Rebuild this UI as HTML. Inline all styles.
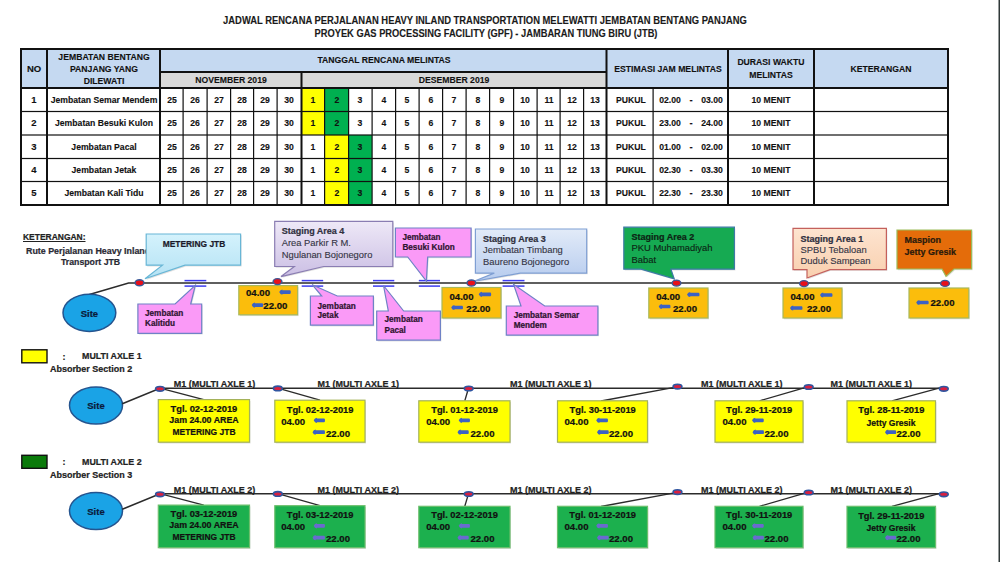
<!DOCTYPE html>
<html><head><meta charset="utf-8"><title>Jadwal</title><style>
html,body{margin:0;padding:0;background:#fff;}
body{width:1000px;height:562px;position:relative;overflow:hidden;font-family:"Liberation Sans",sans-serif;color:#111;}
.a{position:absolute;}
.t{position:absolute;white-space:nowrap;font-weight:bold;-webkit-text-stroke:0.12px currentColor;}
</style></head><body>
<div class="t" style="left:26.20px;top:247.10px;font-size:9px;line-height:9px;color:#2a2a35;transform:scaleX(0.985);transform-origin:0 0;-webkit-text-stroke:0.22px currentColor;">Rute Perjalanan Heavy Inland</div>
<svg class="a" style="left:0;top:0" width="1000" height="562"><defs><linearGradient id="gCyan" x1="0" y1="0" x2="0" y2="1"><stop offset="0" stop-color="#d4f2fc"/><stop offset="1" stop-color="#b4e2f4"/></linearGradient><linearGradient id="gLav" x1="0" y1="0" x2="0" y2="1"><stop offset="0" stop-color="#eee8f7"/><stop offset="1" stop-color="#cbbfe4"/></linearGradient><linearGradient id="gBlu" x1="0" y1="0" x2="0" y2="1"><stop offset="0" stop-color="#e2ebf8"/><stop offset="1" stop-color="#b6cbee"/></linearGradient><linearGradient id="gPch" x1="0" y1="0" x2="0" y2="1"><stop offset="0" stop-color="#fde4d0"/><stop offset="1" stop-color="#f9cfae"/></linearGradient></defs><rect x="21" y="49" width="927" height="39" fill="#c5d9f1" /><rect x="161" y="72" width="445" height="16" fill="#d9d9d9" /><rect x="302" y="89" width="22.5" height="22.5" fill="#ffff00" /><rect x="324.5" y="89" width="24.0" height="22.5" fill="#00b050" /><rect x="302" y="111.5" width="22.5" height="23.5" fill="#ffff00" /><rect x="324.5" y="111.5" width="24.0" height="23.5" fill="#00b050" /><rect x="324.5" y="135" width="24.0" height="23.5" fill="#ffff00" /><rect x="348.5" y="135" width="23.5" height="23.5" fill="#00b050" /><rect x="324.5" y="158.5" width="24.0" height="23.0" fill="#ffff00" /><rect x="348.5" y="158.5" width="23.5" height="23.0" fill="#00b050" /><rect x="324.5" y="181.5" width="24.0" height="23.5" fill="#ffff00" /><rect x="348.5" y="181.5" width="23.5" height="23.5" fill="#00b050" /><rect x="182.5" y="88" width="1.2" height="117" fill="#111" /><rect x="206.5" y="88" width="1.2" height="117" fill="#111" /><rect x="230.0" y="88" width="1.2" height="117" fill="#111" /><rect x="253.0" y="88" width="1.2" height="117" fill="#111" /><rect x="276.5" y="88" width="1.2" height="117" fill="#111" /><rect x="324.0" y="88" width="1.2" height="117" fill="#111" /><rect x="348.0" y="88" width="1.2" height="117" fill="#111" /><rect x="371.5" y="88" width="1.2" height="117" fill="#111" /><rect x="395.0" y="88" width="1.2" height="117" fill="#111" /><rect x="418.5" y="88" width="1.2" height="117" fill="#111" /><rect x="442.0" y="88" width="1.2" height="117" fill="#111" /><rect x="465.5" y="88" width="1.2" height="117" fill="#111" /><rect x="489.0" y="88" width="1.2" height="117" fill="#111" /><rect x="513.0" y="88" width="1.2" height="117" fill="#111" /><rect x="536.5" y="88" width="1.2" height="117" fill="#111" /><rect x="559.5" y="88" width="1.2" height="117" fill="#111" /><rect x="583.0" y="88" width="1.2" height="117" fill="#111" /><rect x="652.5" y="88" width="1.2" height="117" fill="#111" /><rect x="21" y="110.9" width="927" height="1.2" fill="#111" /><rect x="21" y="134.4" width="927" height="1.2" fill="#111" /><rect x="21" y="157.9" width="927" height="1.2" fill="#111" /><rect x="21" y="180.9" width="927" height="1.2" fill="#111" /><rect x="20" y="48" width="2" height="158" fill="#111" /><rect x="46" y="48" width="2" height="158" fill="#111" /><rect x="159" y="48" width="2" height="158" fill="#111" /><rect x="300.5" y="48" width="2" height="158" fill="#111" /><rect x="605.5" y="48" width="2" height="158" fill="#111" /><rect x="727" y="48" width="2" height="158" fill="#111" /><rect x="813" y="48" width="2" height="158" fill="#111" /><rect x="947" y="48" width="2" height="158" fill="#111" /><rect x="161" y="71" width="445" height="2" fill="#111" /><rect x="20" y="48" width="929" height="2" fill="#111" /><rect x="20" y="87" width="929" height="2" fill="#111" /><rect x="20" y="204" width="929" height="2" fill="#111" /><rect x="300" y="50" width="3" height="21" fill="#c5d9f1"/><rect x="605" y="50" width="0" height="0" fill="none"/><polyline points="89.4,294.5 128.6,283 945,283" fill="none" stroke="#2b2b2b" stroke-width="1.5"/><ellipse cx="89.4" cy="312.8" rx="26.4" ry="18.6" fill="#1aa3e6" stroke="#24548f" stroke-width="1.5"/><line x1="184.5" y1="280.6" x2="206.3" y2="280.6" stroke="#3c3cf0" stroke-width="1.5"/><line x1="184.5" y1="286.1" x2="206.3" y2="286.1" stroke="#3c3cf0" stroke-width="1.5"/><line x1="301.7" y1="280.6" x2="323.2" y2="280.6" stroke="#3c3cf0" stroke-width="1.5"/><line x1="301.7" y1="286.1" x2="323.2" y2="286.1" stroke="#3c3cf0" stroke-width="1.5"/><line x1="373" y1="280.6" x2="394.3" y2="280.6" stroke="#3c3cf0" stroke-width="1.5"/><line x1="373" y1="286.1" x2="394.3" y2="286.1" stroke="#3c3cf0" stroke-width="1.5"/><line x1="418.8" y1="280.6" x2="440" y2="280.6" stroke="#3c3cf0" stroke-width="1.5"/><line x1="418.8" y1="286.1" x2="440" y2="286.1" stroke="#3c3cf0" stroke-width="1.5"/><line x1="502.6" y1="280.6" x2="524.5" y2="280.6" stroke="#3c3cf0" stroke-width="1.5"/><line x1="502.6" y1="286.1" x2="524.5" y2="286.1" stroke="#3c3cf0" stroke-width="1.5"/><path d="M137.9,304 H175.1 L195.3,285.4 L190.7,304 H201.7 V333.3 H137.9 Z" transform="translate(1,1.2)" fill="#000" fill-opacity="0.12"/><path d="M137.9,304 H175.1 L195.3,285.4 L190.7,304 H201.7 V333.3 H137.9 Z" fill="#fa9af7" stroke="#6f82c6" stroke-width="1.2" stroke-linejoin="miter"/><path d="M310.4,296 H321.7 L312.2,284.7 L337.3,296 H373.4 V325.2 H310.4 Z" transform="translate(1,1.2)" fill="#000" fill-opacity="0.12"/><path d="M310.4,296 H321.7 L312.2,284.7 L337.3,296 H373.4 V325.2 H310.4 Z" fill="#fa9af7" stroke="#6f82c6" stroke-width="1.2" stroke-linejoin="miter"/><path d="M376.7,311 H388.3 L383.5,285.5 L403.7,311 H440.4 V340.2 H376.7 Z" transform="translate(1,1.2)" fill="#000" fill-opacity="0.12"/><path d="M376.7,311 H388.3 L383.5,285.5 L403.7,311 H440.4 V340.2 H376.7 Z" fill="#fa9af7" stroke="#6f82c6" stroke-width="1.2" stroke-linejoin="miter"/><path d="M506.3,306 H521 L513.5,284.2 L544.7,306 H597.9 V335.1 H506.3 Z" transform="translate(1,1.2)" fill="#000" fill-opacity="0.12"/><path d="M506.3,306 H521 L513.5,284.2 L544.7,306 H597.9 V335.1 H506.3 Z" fill="#fa9af7" stroke="#6f82c6" stroke-width="1.2" stroke-linejoin="miter"/><path d="M395.4,228 H471.1 V257 H427.7 L426.4,281 L407.7,257 H395.4 Z" transform="translate(1,1.2)" fill="#000" fill-opacity="0.12"/><path d="M395.4,228 H471.1 V257 H427.7 L426.4,281 L407.7,257 H395.4 Z" fill="#fa9af7" stroke="#6f82c6" stroke-width="1.2" stroke-linejoin="miter"/><path d="M146.2,234 H240.6 V265.2 H185 L145,278.8 L162.5,265.2 H146.2 Z" transform="translate(1,1.2)" fill="#000" fill-opacity="0.12"/><path d="M146.2,234 H240.6 V265.2 H185 L145,278.8 L162.5,265.2 H146.2 Z" fill="url(#gCyan)" stroke="#68b6d6" stroke-width="1.2" stroke-linejoin="miter"/><path d="M274.7,221.3 H392.8 V266.5 H323.7 L281,276.6 L294.3,266.5 H274.7 Z" transform="translate(1,1.2)" fill="#000" fill-opacity="0.12"/><path d="M274.7,221.3 H392.8 V266.5 H323.7 L281,276.6 L294.3,266.5 H274.7 Z" fill="url(#gLav)" stroke="#8a7db2" stroke-width="1.2" stroke-linejoin="miter"/><path d="M475.4,229 H586.7 V273.1 H520.2 L473.3,281.5 L494.3,273.1 H475.4 Z" transform="translate(1,1.2)" fill="#000" fill-opacity="0.12"/><path d="M475.4,229 H586.7 V273.1 H520.2 L473.3,281.5 L494.3,273.1 H475.4 Z" fill="url(#gBlu)" stroke="#7f9fd3" stroke-width="1.2" stroke-linejoin="miter"/><path d="M623.8,227.2 H734.4 V269.2 H670.9 L674.2,278.8 L641,269.2 H623.8 Z" transform="translate(1,1.2)" fill="#000" fill-opacity="0.12"/><path d="M623.8,227.2 H734.4 V269.2 H670.9 L674.2,278.8 L641,269.2 H623.8 Z" fill="#16aa52" stroke="#3d7aa6" stroke-width="1.2" stroke-linejoin="miter"/><path d="M793,228.4 H886.4 V269.6 H830 L807,278 L807,269.6 H793 Z" transform="translate(1,1.2)" fill="#000" fill-opacity="0.12"/><path d="M793,228.4 H886.4 V269.6 H830 L807,278 L807,269.6 H793 Z" fill="url(#gPch)" stroke="#c4605c" stroke-width="1.2" stroke-linejoin="miter"/><path d="M897,230 H971.6 V269 H954 L946,276.4 L942,269 H897 Z" transform="translate(1,1.2)" fill="#000" fill-opacity="0.12"/><path d="M897,230 H971.6 V269 H954 L946,276.4 L942,269 H897 Z" fill="#e46c0a" stroke="#9bbb59" stroke-width="1.2" stroke-linejoin="miter"/><rect x="239.8" y="286.90000000000003" width="58.80000000000001" height="29.19999999999999" fill="#000" fill-opacity="0.13"/><rect x="238.8" y="285.6" width="58.80000000000001" height="29.19999999999999" fill="#fbbd0c" stroke="#a8b85a" stroke-width="1.2"/><rect x="443" y="288.8" width="59" height="30.5" fill="#000" fill-opacity="0.13"/><rect x="442" y="287.5" width="59" height="30.5" fill="#fbbd0c" stroke="#a8b85a" stroke-width="1.2"/><rect x="649.8" y="289.3" width="59.200000000000045" height="30" fill="#000" fill-opacity="0.13"/><rect x="648.8" y="288" width="59.200000000000045" height="30" fill="#fbbd0c" stroke="#a8b85a" stroke-width="1.2"/><rect x="784" y="289.3" width="59" height="30" fill="#000" fill-opacity="0.13"/><rect x="783" y="288" width="59" height="30" fill="#fbbd0c" stroke="#a8b85a" stroke-width="1.2"/><rect x="910" y="289.3" width="59.799999999999955" height="30" fill="#000" fill-opacity="0.13"/><rect x="909" y="288" width="59.799999999999955" height="30" fill="#fbbd0c" stroke="#a8b85a" stroke-width="1.2"/><ellipse cx="139.5" cy="282.8" rx="4.4" ry="3.0" fill="#e8101a" stroke="#3b5a9a" stroke-width="1.4"/><ellipse cx="277.5" cy="281.6" rx="4.4" ry="3.0" fill="#e8101a" stroke="#3b5a9a" stroke-width="1.4"/><ellipse cx="471.4" cy="283" rx="4.4" ry="3.0" fill="#e8101a" stroke="#3b5a9a" stroke-width="1.4"/><ellipse cx="676.5" cy="283.1" rx="4.4" ry="3.0" fill="#e8101a" stroke="#3b5a9a" stroke-width="1.4"/><ellipse cx="804" cy="283.6" rx="4.4" ry="3.0" fill="#e8101a" stroke="#3b5a9a" stroke-width="1.4"/><ellipse cx="945" cy="283.4" rx="4.4" ry="3.0" fill="#e8101a" stroke="#3b5a9a" stroke-width="1.4"/><path d="M279.2,292.1 Q280.2,289.5 282.4,289.5 L282.4,290.25 L290.0,290.25 Q290.8,290.25 290.8,292.1 Q290.8,293.95000000000005 290.0,293.95000000000005 L282.4,293.95000000000005 L282.4,294.70000000000005 Q280.2,294.70000000000005 279.2,292.1 Z" fill="#3b62c4"/><path d="M251.7,305.1 Q252.7,302.5 254.89999999999998,302.5 L254.89999999999998,303.25 L262.4,303.25 Q263.2,303.25 263.2,305.1 Q263.2,306.95000000000005 262.4,306.95000000000005 L254.89999999999998,306.95000000000005 L254.89999999999998,307.70000000000005 Q252.7,307.70000000000005 251.7,305.1 Z" fill="#3b62c4"/><path d="M478.7,294.3 Q479.7,291.7 481.9,291.7 L481.9,292.45 L490.4,292.45 Q491.2,292.45 491.2,294.3 Q491.2,296.15000000000003 490.4,296.15000000000003 L481.9,296.15000000000003 L481.9,296.90000000000003 Q479.7,296.90000000000003 478.7,294.3 Z" fill="#3b62c4"/><path d="M451.2,307.5 Q452.2,304.9 454.4,304.9 L454.4,305.65 L462.2,305.65 Q463,305.65 463,307.5 Q463,309.35 462.2,309.35 L454.4,309.35 L454.4,310.1 Q452.2,310.1 451.2,307.5 Z" fill="#3b62c4"/><path d="M687,294.5 Q688,291.9 690.2,291.9 L690.2,292.65 L698.7,292.65 Q699.5,292.65 699.5,294.5 Q699.5,296.35 698.7,296.35 L690.2,296.35 L690.2,297.1 Q688,297.1 687,294.5 Z" fill="#3b62c4"/><path d="M658.7,306.5 Q659.7,303.9 661.9000000000001,303.9 L661.9000000000001,304.65 L669.7,304.65 Q670.5,304.65 670.5,306.5 Q670.5,308.35 669.7,308.35 L661.9000000000001,308.35 L661.9000000000001,309.1 Q659.7,309.1 658.7,306.5 Z" fill="#3b62c4"/><path d="M820,295 Q821,292.4 823.2,292.4 L823.2,293.15 L831.7,293.15 Q832.5,293.15 832.5,295 Q832.5,296.85 831.7,296.85 L823.2,296.85 L823.2,297.6 Q821,297.6 820,295 Z" fill="#3b62c4"/><path d="M790,308 Q791,305.4 793.2,305.4 L793.2,306.15 L801.7,306.15 Q802.5,306.15 802.5,308 Q802.5,309.85 801.7,309.85 L793.2,309.85 L793.2,310.6 Q791,310.6 790,308 Z" fill="#3b62c4"/><path d="M916.2,302.5 Q917.2,299.9 919.4000000000001,299.9 L919.4000000000001,300.65 L927.9000000000001,300.65 Q928.7,300.65 928.7,302.5 Q928.7,304.35 927.9000000000001,304.35 L919.4000000000001,304.35 L919.4000000000001,305.1 Q917.2,305.1 916.2,302.5 Z" fill="#3b62c4"/><rect x="21.8" y="349.8" width="25.2" height="13" fill="#ffff00" stroke="#111" stroke-width="1.4"/><ellipse cx="96" cy="405.5" rx="26.5" ry="18.4" fill="#1aa3e6" stroke="#24548f" stroke-width="1.5"/><polyline points="122.3,403.8 160,388.2 944,388.2" fill="none" stroke="#2b2b2b" stroke-width="1.5"/><line x1="160" y1="388.2" x2="203.8" y2="399.6" stroke="#2b2b2b" stroke-width="1.3"/><line x1="277.8" y1="388.2" x2="320" y2="400.2" stroke="#2b2b2b" stroke-width="1.3"/><line x1="468.2" y1="389.2" x2="464.8" y2="400.8" stroke="#2b2b2b" stroke-width="1.3"/><line x1="673" y1="387.7" x2="601" y2="401" stroke="#2b2b2b" stroke-width="1.3"/><line x1="805" y1="387.7" x2="759.5" y2="400.8" stroke="#2b2b2b" stroke-width="1.3"/><line x1="939" y1="388.2" x2="892" y2="400.8" stroke="#2b2b2b" stroke-width="1.3"/><rect x="159.3" y="400.90000000000003" width="91.19999999999999" height="42.599999999999966" fill="#000" fill-opacity="0.13"/><rect x="158.3" y="399.6" width="91.19999999999999" height="42.599999999999966" fill="#ffff00" stroke="#a4b25a" stroke-width="1.2"/><rect x="275.8" y="401.5" width="90.19999999999999" height="42.0" fill="#000" fill-opacity="0.13"/><rect x="274.8" y="400.2" width="90.19999999999999" height="42.0" fill="#ffff00" stroke="#a4b25a" stroke-width="1.2"/><rect x="419.8" y="402.1" width="91.19999999999999" height="41.39999999999998" fill="#000" fill-opacity="0.13"/><rect x="418.8" y="400.8" width="91.19999999999999" height="41.39999999999998" fill="#ffff00" stroke="#a4b25a" stroke-width="1.2"/><rect x="558.5" y="402.1" width="90.0" height="41.39999999999998" fill="#000" fill-opacity="0.13"/><rect x="557.5" y="400.8" width="90.0" height="41.39999999999998" fill="#ffff00" stroke="#a4b25a" stroke-width="1.2"/><rect x="716" y="402.1" width="88" height="41.39999999999998" fill="#000" fill-opacity="0.13"/><rect x="715" y="400.8" width="88" height="41.39999999999998" fill="#ffff00" stroke="#a4b25a" stroke-width="1.2"/><rect x="848" y="402.1" width="88.5" height="41.39999999999998" fill="#000" fill-opacity="0.13"/><rect x="847" y="400.8" width="88.5" height="41.39999999999998" fill="#ffff00" stroke="#a4b25a" stroke-width="1.2"/><ellipse cx="160" cy="388.8" rx="4.4" ry="2.3" fill="#d82040" stroke="#2f55a0" stroke-width="1.6"/><ellipse cx="277.8" cy="388.4" rx="4.4" ry="2.3" fill="#d82040" stroke="#2f55a0" stroke-width="1.6"/><ellipse cx="468.7" cy="388.5" rx="4.4" ry="2.3" fill="#d82040" stroke="#2f55a0" stroke-width="1.6"/><ellipse cx="677.5" cy="386.59999999999997" rx="4.4" ry="2.3" fill="#d82040" stroke="#2f55a0" stroke-width="1.6"/><ellipse cx="808.7" cy="387.0" rx="4.4" ry="2.3" fill="#d82040" stroke="#2f55a0" stroke-width="1.6"/><ellipse cx="943.8" cy="388.8" rx="4.4" ry="2.3" fill="#d82040" stroke="#2f55a0" stroke-width="1.6"/><path d="M313.7,420.3 Q314.7,417.7 316.9,417.7 L316.9,418.45 L324.2,418.45 Q325,418.45 325,420.3 Q325,422.15000000000003 324.2,422.15000000000003 L316.9,422.15000000000003 L316.9,422.90000000000003 Q314.7,422.90000000000003 313.7,420.3 Z" fill="#3b62c4"/><path d="M312.5,432.2 Q313.5,429.59999999999997 315.7,429.59999999999997 L315.7,430.34999999999997 L324.2,430.34999999999997 Q325,430.34999999999997 325,432.2 Q325,434.05 324.2,434.05 L315.7,434.05 L315.7,434.8 Q313.5,434.8 312.5,432.2 Z" fill="#3b62c4"/><path d="M458.7,420.3 Q459.7,417.7 461.9,417.7 L461.9,418.45 L469.2,418.45 Q470,418.45 470,420.3 Q470,422.15000000000003 469.2,422.15000000000003 L461.9,422.15000000000003 L461.9,422.90000000000003 Q459.7,422.90000000000003 458.7,420.3 Z" fill="#3b62c4"/><path d="M457.5,432.2 Q458.5,429.59999999999997 460.7,429.59999999999997 L460.7,430.34999999999997 L468.0,430.34999999999997 Q468.8,430.34999999999997 468.8,432.2 Q468.8,434.05 468.0,434.05 L460.7,434.05 L460.7,434.8 Q458.5,434.8 457.5,432.2 Z" fill="#3b62c4"/><path d="M596.2,420.3 Q597.2,417.7 599.4000000000001,417.7 L599.4000000000001,418.45 L607.2,418.45 Q608,418.45 608,420.3 Q608,422.15000000000003 607.2,422.15000000000003 L599.4000000000001,422.15000000000003 L599.4000000000001,422.90000000000003 Q597.2,422.90000000000003 596.2,420.3 Z" fill="#3b62c4"/><path d="M597,432.2 Q598,429.59999999999997 600.2,429.59999999999997 L600.2,430.34999999999997 L608.0,430.34999999999997 Q608.8,430.34999999999997 608.8,432.2 Q608.8,434.05 608.0,434.05 L600.2,434.05 L600.2,434.8 Q598,434.8 597,432.2 Z" fill="#3b62c4"/><path d="M752,420.3 Q753,417.7 755.2,417.7 L755.2,418.45 L763.0,418.45 Q763.8,418.45 763.8,420.3 Q763.8,422.15000000000003 763.0,422.15000000000003 L755.2,422.15000000000003 L755.2,422.90000000000003 Q753,422.90000000000003 752,420.3 Z" fill="#3b62c4"/><path d="M752.5,432.2 Q753.5,429.59999999999997 755.7,429.59999999999997 L755.7,430.34999999999997 L763.2,430.34999999999997 Q764,430.34999999999997 764,432.2 Q764,434.05 763.2,434.05 L755.7,434.05 L755.7,434.8 Q753.5,434.8 752.5,432.2 Z" fill="#3b62c4"/><path d="M885,432.2 Q886,429.59999999999997 888.2,429.59999999999997 L888.2,430.34999999999997 L895.4000000000001,430.34999999999997 Q896.2,430.34999999999997 896.2,432.2 Q896.2,434.05 895.4000000000001,434.05 L888.2,434.05 L888.2,434.8 Q886,434.8 885,432.2 Z" fill="#3b62c4"/><rect x="21.8" y="455.3" width="25.2" height="13" fill="#0a7a0a" stroke="#111" stroke-width="1.4"/><ellipse cx="96" cy="511.0" rx="26.5" ry="18.4" fill="#1aa3e6" stroke="#24548f" stroke-width="1.5"/><polyline points="122.3,509.3 160,493.7 944,493.7" fill="none" stroke="#2b2b2b" stroke-width="1.5"/><line x1="160" y1="493.7" x2="203.8" y2="505.1" stroke="#2b2b2b" stroke-width="1.3"/><line x1="277.8" y1="493.7" x2="320" y2="505.7" stroke="#2b2b2b" stroke-width="1.3"/><line x1="468.2" y1="494.7" x2="464.8" y2="506.3" stroke="#2b2b2b" stroke-width="1.3"/><line x1="673" y1="493.2" x2="601" y2="506.5" stroke="#2b2b2b" stroke-width="1.3"/><line x1="805" y1="493.2" x2="759.5" y2="506.3" stroke="#2b2b2b" stroke-width="1.3"/><line x1="939" y1="493.7" x2="892" y2="506.3" stroke="#2b2b2b" stroke-width="1.3"/><rect x="159.3" y="506.40000000000003" width="91.19999999999999" height="42.60000000000002" fill="#000" fill-opacity="0.13"/><rect x="158.3" y="505.1" width="91.19999999999999" height="42.60000000000002" fill="#1cb04e" stroke="#6cbf6c" stroke-width="1.2"/><rect x="275.8" y="507.0" width="90.19999999999999" height="42.00000000000006" fill="#000" fill-opacity="0.13"/><rect x="274.8" y="505.7" width="90.19999999999999" height="42.00000000000006" fill="#1cb04e" stroke="#6cbf6c" stroke-width="1.2"/><rect x="419.8" y="507.6" width="91.19999999999999" height="41.400000000000034" fill="#000" fill-opacity="0.13"/><rect x="418.8" y="506.3" width="91.19999999999999" height="41.400000000000034" fill="#1cb04e" stroke="#6cbf6c" stroke-width="1.2"/><rect x="558.5" y="507.6" width="90.0" height="41.400000000000034" fill="#000" fill-opacity="0.13"/><rect x="557.5" y="506.3" width="90.0" height="41.400000000000034" fill="#1cb04e" stroke="#6cbf6c" stroke-width="1.2"/><rect x="716" y="507.6" width="88" height="41.400000000000034" fill="#000" fill-opacity="0.13"/><rect x="715" y="506.3" width="88" height="41.400000000000034" fill="#1cb04e" stroke="#6cbf6c" stroke-width="1.2"/><rect x="848" y="507.6" width="88.5" height="41.400000000000034" fill="#000" fill-opacity="0.13"/><rect x="847" y="506.3" width="88.5" height="41.400000000000034" fill="#1cb04e" stroke="#6cbf6c" stroke-width="1.2"/><ellipse cx="160" cy="494.3" rx="4.4" ry="2.3" fill="#d82040" stroke="#2f55a0" stroke-width="1.6"/><ellipse cx="277.8" cy="493.9" rx="4.4" ry="2.3" fill="#d82040" stroke="#2f55a0" stroke-width="1.6"/><ellipse cx="468.7" cy="494.0" rx="4.4" ry="2.3" fill="#d82040" stroke="#2f55a0" stroke-width="1.6"/><ellipse cx="677.5" cy="492.09999999999997" rx="4.4" ry="2.3" fill="#d82040" stroke="#2f55a0" stroke-width="1.6"/><ellipse cx="808.7" cy="492.5" rx="4.4" ry="2.3" fill="#d82040" stroke="#2f55a0" stroke-width="1.6"/><ellipse cx="943.8" cy="494.3" rx="4.4" ry="2.3" fill="#d82040" stroke="#2f55a0" stroke-width="1.6"/><path d="M313.7,525.8 Q314.7,523.1999999999999 316.9,523.1999999999999 L316.9,523.9499999999999 L324.2,523.9499999999999 Q325,523.9499999999999 325,525.8 Q325,527.65 324.2,527.65 L316.9,527.65 L316.9,528.4 Q314.7,528.4 313.7,525.8 Z" fill="#6a6ad0"/><path d="M312.5,537.7 Q313.5,535.1 315.7,535.1 L315.7,535.85 L324.2,535.85 Q325,535.85 325,537.7 Q325,539.5500000000001 324.2,539.5500000000001 L315.7,539.5500000000001 L315.7,540.3000000000001 Q313.5,540.3000000000001 312.5,537.7 Z" fill="#6a6ad0"/><path d="M458.7,525.8 Q459.7,523.1999999999999 461.9,523.1999999999999 L461.9,523.9499999999999 L469.2,523.9499999999999 Q470,523.9499999999999 470,525.8 Q470,527.65 469.2,527.65 L461.9,527.65 L461.9,528.4 Q459.7,528.4 458.7,525.8 Z" fill="#6a6ad0"/><path d="M457.5,537.7 Q458.5,535.1 460.7,535.1 L460.7,535.85 L468.0,535.85 Q468.8,535.85 468.8,537.7 Q468.8,539.5500000000001 468.0,539.5500000000001 L460.7,539.5500000000001 L460.7,540.3000000000001 Q458.5,540.3000000000001 457.5,537.7 Z" fill="#6a6ad0"/><path d="M596.2,525.8 Q597.2,523.1999999999999 599.4000000000001,523.1999999999999 L599.4000000000001,523.9499999999999 L607.2,523.9499999999999 Q608,523.9499999999999 608,525.8 Q608,527.65 607.2,527.65 L599.4000000000001,527.65 L599.4000000000001,528.4 Q597.2,528.4 596.2,525.8 Z" fill="#6a6ad0"/><path d="M597,537.7 Q598,535.1 600.2,535.1 L600.2,535.85 L608.0,535.85 Q608.8,535.85 608.8,537.7 Q608.8,539.5500000000001 608.0,539.5500000000001 L600.2,539.5500000000001 L600.2,540.3000000000001 Q598,540.3000000000001 597,537.7 Z" fill="#6a6ad0"/><path d="M752,525.8 Q753,523.1999999999999 755.2,523.1999999999999 L755.2,523.9499999999999 L763.0,523.9499999999999 Q763.8,523.9499999999999 763.8,525.8 Q763.8,527.65 763.0,527.65 L755.2,527.65 L755.2,528.4 Q753,528.4 752,525.8 Z" fill="#6a6ad0"/><path d="M752.5,537.7 Q753.5,535.1 755.7,535.1 L755.7,535.85 L763.2,535.85 Q764,535.85 764,537.7 Q764,539.5500000000001 763.2,539.5500000000001 L755.7,539.5500000000001 L755.7,540.3000000000001 Q753.5,540.3000000000001 752.5,537.7 Z" fill="#6a6ad0"/><path d="M885,537.7 Q886,535.1 888.2,535.1 L888.2,535.85 L895.4000000000001,535.85 Q896.2,535.85 896.2,537.7 Q896.2,539.5500000000001 895.4000000000001,539.5500000000001 L888.2,539.5500000000001 L888.2,540.3000000000001 Q886,540.3000000000001 885,537.7 Z" fill="#6a6ad0"/><rect x="998.5" y="0" width="1.5" height="562" fill="#2f3838" /></svg>
<div class="t" style="left:485.00px;top:15.60px;font-size:10px;line-height:10px;color:#1a1a1a;transform:translateX(-50%) scaleX(0.94);transform-origin:50% 0;">JADWAL RENCANA PERJALANAN HEAVY INLAND TRANSPORTATION MELEWATTI JEMBATAN BENTANG PANJANG</div><div class="t" style="left:485.50px;top:28.80px;font-size:10px;line-height:10px;color:#1a1a1a;transform:translateX(-50%) scaleX(0.93);transform-origin:50% 0;">PROYEK GAS PROCESSING FACILITY (GPF) - JAMBARAN TIUNG BIRU (JTB)</div><div class="t" style="left:34.00px;top:63.85px;font-size:9.5px;line-height:9.5px;transform:translateX(-50%);transform-origin:50% 0;">NO</div><div class="t" style="left:103.50px;top:51.55px;font-size:9.5px;line-height:9.5px;transform:translateX(-50%) scaleX(0.91);transform-origin:50% 0;">JEMBATAN BENTANG</div><div class="t" style="left:103.50px;top:64.05px;font-size:9.5px;line-height:9.5px;transform:translateX(-50%) scaleX(0.91);transform-origin:50% 0;">PANJANG YANG</div><div class="t" style="left:103.50px;top:76.45px;font-size:9.5px;line-height:9.5px;transform:translateX(-50%) scaleX(0.91);transform-origin:50% 0;">DILEWATI</div><div class="t" style="left:383.50px;top:55.45px;font-size:9.5px;line-height:9.5px;transform:translateX(-50%) scaleX(0.91);transform-origin:50% 0;">TANGGAL RENCANA MELINTAS</div><div class="t" style="left:230.70px;top:75.05px;font-size:9.5px;line-height:9.5px;transform:translateX(-50%) scaleX(0.91);transform-origin:50% 0;">NOVEMBER 2019</div><div class="t" style="left:454.20px;top:75.05px;font-size:9.5px;line-height:9.5px;transform:translateX(-50%) scaleX(0.91);transform-origin:50% 0;">DESEMBER 2019</div><div class="t" style="left:667.50px;top:64.25px;font-size:9.5px;line-height:9.5px;transform:translateX(-50%) scaleX(0.91);transform-origin:50% 0;">ESTIMASI JAM MELINTAS</div><div class="t" style="left:771.00px;top:57.25px;font-size:9.5px;line-height:9.5px;transform:translateX(-50%) scaleX(0.91);transform-origin:50% 0;">DURASI WAKTU</div><div class="t" style="left:771.00px;top:69.65px;font-size:9.5px;line-height:9.5px;transform:translateX(-50%) scaleX(0.91);transform-origin:50% 0;">MELINTAS</div><div class="t" style="left:881.00px;top:63.85px;font-size:9.5px;line-height:9.5px;transform:translateX(-50%) scaleX(0.91);transform-origin:50% 0;">KETERANGAN</div><div class="t" style="left:34.00px;top:95.10px;font-size:9.5px;line-height:9.5px;transform:translateX(-50%);transform-origin:50% 0;">1</div><div class="t" style="left:103.50px;top:95.10px;font-size:9.5px;line-height:9.5px;transform:translateX(-50%) scaleX(0.91);transform-origin:50% 0;">Jembatan Semar Mendem</div><div class="t" style="left:172.10px;top:95.10px;font-size:9.5px;line-height:9.5px;transform:translateX(-50%) scaleX(0.91);transform-origin:50% 0;">25</div><div class="t" style="left:195.10px;top:95.10px;font-size:9.5px;line-height:9.5px;transform:translateX(-50%) scaleX(0.91);transform-origin:50% 0;">26</div><div class="t" style="left:218.85px;top:95.10px;font-size:9.5px;line-height:9.5px;transform:translateX(-50%) scaleX(0.91);transform-origin:50% 0;">27</div><div class="t" style="left:242.10px;top:95.10px;font-size:9.5px;line-height:9.5px;transform:translateX(-50%) scaleX(0.91);transform-origin:50% 0;">28</div><div class="t" style="left:265.35px;top:95.10px;font-size:9.5px;line-height:9.5px;transform:translateX(-50%) scaleX(0.91);transform-origin:50% 0;">29</div><div class="t" style="left:288.85px;top:95.10px;font-size:9.5px;line-height:9.5px;transform:translateX(-50%) scaleX(0.91);transform-origin:50% 0;">30</div><div class="t" style="left:313.35px;top:95.10px;font-size:9.5px;line-height:9.5px;transform:translateX(-50%) scaleX(0.91);transform-origin:50% 0;">1</div><div class="t" style="left:336.60px;top:95.10px;font-size:9.5px;line-height:9.5px;transform:translateX(-50%) scaleX(0.91);transform-origin:50% 0;">2</div><div class="t" style="left:360.35px;top:95.10px;font-size:9.5px;line-height:9.5px;transform:translateX(-50%) scaleX(0.91);transform-origin:50% 0;">3</div><div class="t" style="left:383.85px;top:95.10px;font-size:9.5px;line-height:9.5px;transform:translateX(-50%) scaleX(0.91);transform-origin:50% 0;">4</div><div class="t" style="left:407.35px;top:95.10px;font-size:9.5px;line-height:9.5px;transform:translateX(-50%) scaleX(0.91);transform-origin:50% 0;">5</div><div class="t" style="left:430.85px;top:95.10px;font-size:9.5px;line-height:9.5px;transform:translateX(-50%) scaleX(0.91);transform-origin:50% 0;">6</div><div class="t" style="left:454.35px;top:95.10px;font-size:9.5px;line-height:9.5px;transform:translateX(-50%) scaleX(0.91);transform-origin:50% 0;">7</div><div class="t" style="left:477.85px;top:95.10px;font-size:9.5px;line-height:9.5px;transform:translateX(-50%) scaleX(0.91);transform-origin:50% 0;">8</div><div class="t" style="left:501.60px;top:95.10px;font-size:9.5px;line-height:9.5px;transform:translateX(-50%) scaleX(0.91);transform-origin:50% 0;">9</div><div class="t" style="left:525.35px;top:95.10px;font-size:9.5px;line-height:9.5px;transform:translateX(-50%) scaleX(0.91);transform-origin:50% 0;">10</div><div class="t" style="left:548.60px;top:95.10px;font-size:9.5px;line-height:9.5px;transform:translateX(-50%) scaleX(0.91);transform-origin:50% 0;">11</div><div class="t" style="left:571.85px;top:95.10px;font-size:9.5px;line-height:9.5px;transform:translateX(-50%) scaleX(0.91);transform-origin:50% 0;">12</div><div class="t" style="left:594.85px;top:95.10px;font-size:9.5px;line-height:9.5px;transform:translateX(-50%) scaleX(0.91);transform-origin:50% 0;">13</div><div class="t" style="left:630.50px;top:95.10px;font-size:9.5px;line-height:9.5px;transform:translateX(-50%) scaleX(0.91);transform-origin:50% 0;">PUKUL</div><div class="t" style="left:669.50px;top:95.10px;font-size:9.5px;line-height:9.5px;transform:translateX(-50%) scaleX(0.91);transform-origin:50% 0;">02.00</div><div class="t" style="left:691.00px;top:95.10px;font-size:9.5px;line-height:9.5px;transform:translateX(-50%);transform-origin:50% 0;">-</div><div class="t" style="left:711.50px;top:95.10px;font-size:9.5px;line-height:9.5px;transform:translateX(-50%) scaleX(0.91);transform-origin:50% 0;">03.00</div><div class="t" style="left:771.00px;top:95.10px;font-size:9.5px;line-height:9.5px;transform:translateX(-50%) scaleX(0.91);transform-origin:50% 0;">10 MENIT</div><div class="t" style="left:34.00px;top:118.10px;font-size:9.5px;line-height:9.5px;transform:translateX(-50%);transform-origin:50% 0;">2</div><div class="t" style="left:103.50px;top:118.10px;font-size:9.5px;line-height:9.5px;transform:translateX(-50%) scaleX(0.91);transform-origin:50% 0;">Jembatan Besuki Kulon</div><div class="t" style="left:172.10px;top:118.10px;font-size:9.5px;line-height:9.5px;transform:translateX(-50%) scaleX(0.91);transform-origin:50% 0;">25</div><div class="t" style="left:195.10px;top:118.10px;font-size:9.5px;line-height:9.5px;transform:translateX(-50%) scaleX(0.91);transform-origin:50% 0;">26</div><div class="t" style="left:218.85px;top:118.10px;font-size:9.5px;line-height:9.5px;transform:translateX(-50%) scaleX(0.91);transform-origin:50% 0;">27</div><div class="t" style="left:242.10px;top:118.10px;font-size:9.5px;line-height:9.5px;transform:translateX(-50%) scaleX(0.91);transform-origin:50% 0;">28</div><div class="t" style="left:265.35px;top:118.10px;font-size:9.5px;line-height:9.5px;transform:translateX(-50%) scaleX(0.91);transform-origin:50% 0;">29</div><div class="t" style="left:288.85px;top:118.10px;font-size:9.5px;line-height:9.5px;transform:translateX(-50%) scaleX(0.91);transform-origin:50% 0;">30</div><div class="t" style="left:313.35px;top:118.10px;font-size:9.5px;line-height:9.5px;transform:translateX(-50%) scaleX(0.91);transform-origin:50% 0;">1</div><div class="t" style="left:336.60px;top:118.10px;font-size:9.5px;line-height:9.5px;transform:translateX(-50%) scaleX(0.91);transform-origin:50% 0;">2</div><div class="t" style="left:360.35px;top:118.10px;font-size:9.5px;line-height:9.5px;transform:translateX(-50%) scaleX(0.91);transform-origin:50% 0;">3</div><div class="t" style="left:383.85px;top:118.10px;font-size:9.5px;line-height:9.5px;transform:translateX(-50%) scaleX(0.91);transform-origin:50% 0;">4</div><div class="t" style="left:407.35px;top:118.10px;font-size:9.5px;line-height:9.5px;transform:translateX(-50%) scaleX(0.91);transform-origin:50% 0;">5</div><div class="t" style="left:430.85px;top:118.10px;font-size:9.5px;line-height:9.5px;transform:translateX(-50%) scaleX(0.91);transform-origin:50% 0;">6</div><div class="t" style="left:454.35px;top:118.10px;font-size:9.5px;line-height:9.5px;transform:translateX(-50%) scaleX(0.91);transform-origin:50% 0;">7</div><div class="t" style="left:477.85px;top:118.10px;font-size:9.5px;line-height:9.5px;transform:translateX(-50%) scaleX(0.91);transform-origin:50% 0;">8</div><div class="t" style="left:501.60px;top:118.10px;font-size:9.5px;line-height:9.5px;transform:translateX(-50%) scaleX(0.91);transform-origin:50% 0;">9</div><div class="t" style="left:525.35px;top:118.10px;font-size:9.5px;line-height:9.5px;transform:translateX(-50%) scaleX(0.91);transform-origin:50% 0;">10</div><div class="t" style="left:548.60px;top:118.10px;font-size:9.5px;line-height:9.5px;transform:translateX(-50%) scaleX(0.91);transform-origin:50% 0;">11</div><div class="t" style="left:571.85px;top:118.10px;font-size:9.5px;line-height:9.5px;transform:translateX(-50%) scaleX(0.91);transform-origin:50% 0;">12</div><div class="t" style="left:594.85px;top:118.10px;font-size:9.5px;line-height:9.5px;transform:translateX(-50%) scaleX(0.91);transform-origin:50% 0;">13</div><div class="t" style="left:630.50px;top:118.10px;font-size:9.5px;line-height:9.5px;transform:translateX(-50%) scaleX(0.91);transform-origin:50% 0;">PUKUL</div><div class="t" style="left:669.50px;top:118.10px;font-size:9.5px;line-height:9.5px;transform:translateX(-50%) scaleX(0.91);transform-origin:50% 0;">23.00</div><div class="t" style="left:691.00px;top:118.10px;font-size:9.5px;line-height:9.5px;transform:translateX(-50%);transform-origin:50% 0;">-</div><div class="t" style="left:711.50px;top:118.10px;font-size:9.5px;line-height:9.5px;transform:translateX(-50%) scaleX(0.91);transform-origin:50% 0;">24.00</div><div class="t" style="left:771.00px;top:118.10px;font-size:9.5px;line-height:9.5px;transform:translateX(-50%) scaleX(0.91);transform-origin:50% 0;">10 MENIT</div><div class="t" style="left:34.00px;top:141.60px;font-size:9.5px;line-height:9.5px;transform:translateX(-50%);transform-origin:50% 0;">3</div><div class="t" style="left:103.50px;top:141.60px;font-size:9.5px;line-height:9.5px;transform:translateX(-50%) scaleX(0.91);transform-origin:50% 0;">Jembatan Pacal</div><div class="t" style="left:172.10px;top:141.60px;font-size:9.5px;line-height:9.5px;transform:translateX(-50%) scaleX(0.91);transform-origin:50% 0;">25</div><div class="t" style="left:195.10px;top:141.60px;font-size:9.5px;line-height:9.5px;transform:translateX(-50%) scaleX(0.91);transform-origin:50% 0;">26</div><div class="t" style="left:218.85px;top:141.60px;font-size:9.5px;line-height:9.5px;transform:translateX(-50%) scaleX(0.91);transform-origin:50% 0;">27</div><div class="t" style="left:242.10px;top:141.60px;font-size:9.5px;line-height:9.5px;transform:translateX(-50%) scaleX(0.91);transform-origin:50% 0;">28</div><div class="t" style="left:265.35px;top:141.60px;font-size:9.5px;line-height:9.5px;transform:translateX(-50%) scaleX(0.91);transform-origin:50% 0;">29</div><div class="t" style="left:288.85px;top:141.60px;font-size:9.5px;line-height:9.5px;transform:translateX(-50%) scaleX(0.91);transform-origin:50% 0;">30</div><div class="t" style="left:313.35px;top:141.60px;font-size:9.5px;line-height:9.5px;transform:translateX(-50%) scaleX(0.91);transform-origin:50% 0;">1</div><div class="t" style="left:336.60px;top:141.60px;font-size:9.5px;line-height:9.5px;transform:translateX(-50%) scaleX(0.91);transform-origin:50% 0;">2</div><div class="t" style="left:360.35px;top:141.60px;font-size:9.5px;line-height:9.5px;transform:translateX(-50%) scaleX(0.91);transform-origin:50% 0;">3</div><div class="t" style="left:383.85px;top:141.60px;font-size:9.5px;line-height:9.5px;transform:translateX(-50%) scaleX(0.91);transform-origin:50% 0;">4</div><div class="t" style="left:407.35px;top:141.60px;font-size:9.5px;line-height:9.5px;transform:translateX(-50%) scaleX(0.91);transform-origin:50% 0;">5</div><div class="t" style="left:430.85px;top:141.60px;font-size:9.5px;line-height:9.5px;transform:translateX(-50%) scaleX(0.91);transform-origin:50% 0;">6</div><div class="t" style="left:454.35px;top:141.60px;font-size:9.5px;line-height:9.5px;transform:translateX(-50%) scaleX(0.91);transform-origin:50% 0;">7</div><div class="t" style="left:477.85px;top:141.60px;font-size:9.5px;line-height:9.5px;transform:translateX(-50%) scaleX(0.91);transform-origin:50% 0;">8</div><div class="t" style="left:501.60px;top:141.60px;font-size:9.5px;line-height:9.5px;transform:translateX(-50%) scaleX(0.91);transform-origin:50% 0;">9</div><div class="t" style="left:525.35px;top:141.60px;font-size:9.5px;line-height:9.5px;transform:translateX(-50%) scaleX(0.91);transform-origin:50% 0;">10</div><div class="t" style="left:548.60px;top:141.60px;font-size:9.5px;line-height:9.5px;transform:translateX(-50%) scaleX(0.91);transform-origin:50% 0;">11</div><div class="t" style="left:571.85px;top:141.60px;font-size:9.5px;line-height:9.5px;transform:translateX(-50%) scaleX(0.91);transform-origin:50% 0;">12</div><div class="t" style="left:594.85px;top:141.60px;font-size:9.5px;line-height:9.5px;transform:translateX(-50%) scaleX(0.91);transform-origin:50% 0;">13</div><div class="t" style="left:630.50px;top:141.60px;font-size:9.5px;line-height:9.5px;transform:translateX(-50%) scaleX(0.91);transform-origin:50% 0;">PUKUL</div><div class="t" style="left:669.50px;top:141.60px;font-size:9.5px;line-height:9.5px;transform:translateX(-50%) scaleX(0.91);transform-origin:50% 0;">01.00</div><div class="t" style="left:691.00px;top:141.60px;font-size:9.5px;line-height:9.5px;transform:translateX(-50%);transform-origin:50% 0;">-</div><div class="t" style="left:711.50px;top:141.60px;font-size:9.5px;line-height:9.5px;transform:translateX(-50%) scaleX(0.91);transform-origin:50% 0;">02.00</div><div class="t" style="left:771.00px;top:141.60px;font-size:9.5px;line-height:9.5px;transform:translateX(-50%) scaleX(0.91);transform-origin:50% 0;">10 MENIT</div><div class="t" style="left:34.00px;top:164.85px;font-size:9.5px;line-height:9.5px;transform:translateX(-50%);transform-origin:50% 0;">4</div><div class="t" style="left:103.50px;top:164.85px;font-size:9.5px;line-height:9.5px;transform:translateX(-50%) scaleX(0.91);transform-origin:50% 0;">Jembatan Jetak</div><div class="t" style="left:172.10px;top:164.85px;font-size:9.5px;line-height:9.5px;transform:translateX(-50%) scaleX(0.91);transform-origin:50% 0;">25</div><div class="t" style="left:195.10px;top:164.85px;font-size:9.5px;line-height:9.5px;transform:translateX(-50%) scaleX(0.91);transform-origin:50% 0;">26</div><div class="t" style="left:218.85px;top:164.85px;font-size:9.5px;line-height:9.5px;transform:translateX(-50%) scaleX(0.91);transform-origin:50% 0;">27</div><div class="t" style="left:242.10px;top:164.85px;font-size:9.5px;line-height:9.5px;transform:translateX(-50%) scaleX(0.91);transform-origin:50% 0;">28</div><div class="t" style="left:265.35px;top:164.85px;font-size:9.5px;line-height:9.5px;transform:translateX(-50%) scaleX(0.91);transform-origin:50% 0;">29</div><div class="t" style="left:288.85px;top:164.85px;font-size:9.5px;line-height:9.5px;transform:translateX(-50%) scaleX(0.91);transform-origin:50% 0;">30</div><div class="t" style="left:313.35px;top:164.85px;font-size:9.5px;line-height:9.5px;transform:translateX(-50%) scaleX(0.91);transform-origin:50% 0;">1</div><div class="t" style="left:336.60px;top:164.85px;font-size:9.5px;line-height:9.5px;transform:translateX(-50%) scaleX(0.91);transform-origin:50% 0;">2</div><div class="t" style="left:360.35px;top:164.85px;font-size:9.5px;line-height:9.5px;transform:translateX(-50%) scaleX(0.91);transform-origin:50% 0;">3</div><div class="t" style="left:383.85px;top:164.85px;font-size:9.5px;line-height:9.5px;transform:translateX(-50%) scaleX(0.91);transform-origin:50% 0;">4</div><div class="t" style="left:407.35px;top:164.85px;font-size:9.5px;line-height:9.5px;transform:translateX(-50%) scaleX(0.91);transform-origin:50% 0;">5</div><div class="t" style="left:430.85px;top:164.85px;font-size:9.5px;line-height:9.5px;transform:translateX(-50%) scaleX(0.91);transform-origin:50% 0;">6</div><div class="t" style="left:454.35px;top:164.85px;font-size:9.5px;line-height:9.5px;transform:translateX(-50%) scaleX(0.91);transform-origin:50% 0;">7</div><div class="t" style="left:477.85px;top:164.85px;font-size:9.5px;line-height:9.5px;transform:translateX(-50%) scaleX(0.91);transform-origin:50% 0;">8</div><div class="t" style="left:501.60px;top:164.85px;font-size:9.5px;line-height:9.5px;transform:translateX(-50%) scaleX(0.91);transform-origin:50% 0;">9</div><div class="t" style="left:525.35px;top:164.85px;font-size:9.5px;line-height:9.5px;transform:translateX(-50%) scaleX(0.91);transform-origin:50% 0;">10</div><div class="t" style="left:548.60px;top:164.85px;font-size:9.5px;line-height:9.5px;transform:translateX(-50%) scaleX(0.91);transform-origin:50% 0;">11</div><div class="t" style="left:571.85px;top:164.85px;font-size:9.5px;line-height:9.5px;transform:translateX(-50%) scaleX(0.91);transform-origin:50% 0;">12</div><div class="t" style="left:594.85px;top:164.85px;font-size:9.5px;line-height:9.5px;transform:translateX(-50%) scaleX(0.91);transform-origin:50% 0;">13</div><div class="t" style="left:630.50px;top:164.85px;font-size:9.5px;line-height:9.5px;transform:translateX(-50%) scaleX(0.91);transform-origin:50% 0;">PUKUL</div><div class="t" style="left:669.50px;top:164.85px;font-size:9.5px;line-height:9.5px;transform:translateX(-50%) scaleX(0.91);transform-origin:50% 0;">02.30</div><div class="t" style="left:691.00px;top:164.85px;font-size:9.5px;line-height:9.5px;transform:translateX(-50%);transform-origin:50% 0;">-</div><div class="t" style="left:711.50px;top:164.85px;font-size:9.5px;line-height:9.5px;transform:translateX(-50%) scaleX(0.91);transform-origin:50% 0;">03.30</div><div class="t" style="left:771.00px;top:164.85px;font-size:9.5px;line-height:9.5px;transform:translateX(-50%) scaleX(0.91);transform-origin:50% 0;">10 MENIT</div><div class="t" style="left:34.00px;top:188.10px;font-size:9.5px;line-height:9.5px;transform:translateX(-50%);transform-origin:50% 0;">5</div><div class="t" style="left:103.50px;top:188.10px;font-size:9.5px;line-height:9.5px;transform:translateX(-50%) scaleX(0.91);transform-origin:50% 0;">Jembatan Kali Tidu</div><div class="t" style="left:172.10px;top:188.10px;font-size:9.5px;line-height:9.5px;transform:translateX(-50%) scaleX(0.91);transform-origin:50% 0;">25</div><div class="t" style="left:195.10px;top:188.10px;font-size:9.5px;line-height:9.5px;transform:translateX(-50%) scaleX(0.91);transform-origin:50% 0;">26</div><div class="t" style="left:218.85px;top:188.10px;font-size:9.5px;line-height:9.5px;transform:translateX(-50%) scaleX(0.91);transform-origin:50% 0;">27</div><div class="t" style="left:242.10px;top:188.10px;font-size:9.5px;line-height:9.5px;transform:translateX(-50%) scaleX(0.91);transform-origin:50% 0;">28</div><div class="t" style="left:265.35px;top:188.10px;font-size:9.5px;line-height:9.5px;transform:translateX(-50%) scaleX(0.91);transform-origin:50% 0;">29</div><div class="t" style="left:288.85px;top:188.10px;font-size:9.5px;line-height:9.5px;transform:translateX(-50%) scaleX(0.91);transform-origin:50% 0;">30</div><div class="t" style="left:313.35px;top:188.10px;font-size:9.5px;line-height:9.5px;transform:translateX(-50%) scaleX(0.91);transform-origin:50% 0;">1</div><div class="t" style="left:336.60px;top:188.10px;font-size:9.5px;line-height:9.5px;transform:translateX(-50%) scaleX(0.91);transform-origin:50% 0;">2</div><div class="t" style="left:360.35px;top:188.10px;font-size:9.5px;line-height:9.5px;transform:translateX(-50%) scaleX(0.91);transform-origin:50% 0;">3</div><div class="t" style="left:383.85px;top:188.10px;font-size:9.5px;line-height:9.5px;transform:translateX(-50%) scaleX(0.91);transform-origin:50% 0;">4</div><div class="t" style="left:407.35px;top:188.10px;font-size:9.5px;line-height:9.5px;transform:translateX(-50%) scaleX(0.91);transform-origin:50% 0;">5</div><div class="t" style="left:430.85px;top:188.10px;font-size:9.5px;line-height:9.5px;transform:translateX(-50%) scaleX(0.91);transform-origin:50% 0;">6</div><div class="t" style="left:454.35px;top:188.10px;font-size:9.5px;line-height:9.5px;transform:translateX(-50%) scaleX(0.91);transform-origin:50% 0;">7</div><div class="t" style="left:477.85px;top:188.10px;font-size:9.5px;line-height:9.5px;transform:translateX(-50%) scaleX(0.91);transform-origin:50% 0;">8</div><div class="t" style="left:501.60px;top:188.10px;font-size:9.5px;line-height:9.5px;transform:translateX(-50%) scaleX(0.91);transform-origin:50% 0;">9</div><div class="t" style="left:525.35px;top:188.10px;font-size:9.5px;line-height:9.5px;transform:translateX(-50%) scaleX(0.91);transform-origin:50% 0;">10</div><div class="t" style="left:548.60px;top:188.10px;font-size:9.5px;line-height:9.5px;transform:translateX(-50%) scaleX(0.91);transform-origin:50% 0;">11</div><div class="t" style="left:571.85px;top:188.10px;font-size:9.5px;line-height:9.5px;transform:translateX(-50%) scaleX(0.91);transform-origin:50% 0;">12</div><div class="t" style="left:594.85px;top:188.10px;font-size:9.5px;line-height:9.5px;transform:translateX(-50%) scaleX(0.91);transform-origin:50% 0;">13</div><div class="t" style="left:630.50px;top:188.10px;font-size:9.5px;line-height:9.5px;transform:translateX(-50%) scaleX(0.91);transform-origin:50% 0;">PUKUL</div><div class="t" style="left:669.50px;top:188.10px;font-size:9.5px;line-height:9.5px;transform:translateX(-50%) scaleX(0.91);transform-origin:50% 0;">22.30</div><div class="t" style="left:691.00px;top:188.10px;font-size:9.5px;line-height:9.5px;transform:translateX(-50%);transform-origin:50% 0;">-</div><div class="t" style="left:711.50px;top:188.10px;font-size:9.5px;line-height:9.5px;transform:translateX(-50%) scaleX(0.91);transform-origin:50% 0;">23.30</div><div class="t" style="left:771.00px;top:188.10px;font-size:9.5px;line-height:9.5px;transform:translateX(-50%) scaleX(0.91);transform-origin:50% 0;">10 MENIT</div><div class="t" style="left:23.10px;top:232.50px;font-size:9px;line-height:9px;color:#222;transform:scaleX(0.94);transform-origin:0 0;-webkit-text-stroke:0.22px currentColor;text-decoration:underline;">KETERANGAN:</div><div class="t" style="left:61.20px;top:258.10px;font-size:9px;line-height:9px;color:#2a2a35;transform:scaleX(0.97);transform-origin:0 0;-webkit-text-stroke:0.22px currentColor;">Transport JTB</div><div class="t" style="left:89.40px;top:308.75px;font-size:9.5px;line-height:9.5px;color:#0b1a3a;transform:translateX(-50%);transform-origin:50% 0;-webkit-text-stroke:0.22px currentColor;">Site</div><div class="t" style="left:145.00px;top:309.80px;font-size:8.2px;line-height:8.2px;color:#2e1430;-webkit-text-stroke:0.22px currentColor;">Jembatan</div><div class="t" style="left:145.00px;top:320.20px;font-size:8.2px;line-height:8.2px;color:#2e1430;-webkit-text-stroke:0.22px currentColor;">Kalitidu</div><div class="t" style="left:317.50px;top:302.60px;font-size:8.2px;line-height:8.2px;color:#2e1430;-webkit-text-stroke:0.22px currentColor;">Jembatan</div><div class="t" style="left:317.50px;top:311.80px;font-size:8.2px;line-height:8.2px;color:#2e1430;-webkit-text-stroke:0.22px currentColor;">Jetak</div><div class="t" style="left:384.50px;top:316.40px;font-size:8.2px;line-height:8.2px;color:#2e1430;-webkit-text-stroke:0.22px currentColor;">Jembatan</div><div class="t" style="left:384.50px;top:326.60px;font-size:8.2px;line-height:8.2px;color:#2e1430;-webkit-text-stroke:0.22px currentColor;">Pacal</div><div class="t" style="left:402.40px;top:234.30px;font-size:8.2px;line-height:8.2px;color:#2e1430;-webkit-text-stroke:0.22px currentColor;">Jembatan</div><div class="t" style="left:402.40px;top:244.00px;font-size:8.2px;line-height:8.2px;color:#2e1430;-webkit-text-stroke:0.22px currentColor;">Besuki Kulon</div><div class="t" style="left:513.70px;top:311.80px;font-size:8.2px;line-height:8.2px;color:#2e1430;-webkit-text-stroke:0.22px currentColor;">Jembatan Semar</div><div class="t" style="left:513.70px;top:322.20px;font-size:8.2px;line-height:8.2px;color:#2e1430;-webkit-text-stroke:0.22px currentColor;">Mendem</div><div class="t" style="left:193.70px;top:239.90px;font-size:9px;line-height:9px;color:#1a1a2a;transform:translateX(-50%) scaleX(0.935);transform-origin:50% 0;-webkit-text-stroke:0.22px currentColor;">METERING JTB</div><div class="t" style="left:281.70px;top:227.20px;font-size:9px;line-height:9px;color:#303040;-webkit-text-stroke:0.22px currentColor;">Staging Area 4</div><div class="t" style="left:281.70px;top:237.70px;font-size:9.4px;line-height:9.4px;font-weight:normal;color:#353545;">Area Parkir R M.</div><div class="t" style="left:281.70px;top:249.70px;font-size:9.4px;line-height:9.4px;font-weight:normal;color:#353545;">Ngulanan Bojonegoro</div><div class="t" style="left:483.10px;top:235.00px;font-size:9px;line-height:9px;color:#303040;-webkit-text-stroke:0.22px currentColor;">Staging Area 3</div><div class="t" style="left:483.10px;top:245.10px;font-size:9.4px;line-height:9.4px;font-weight:normal;color:#353545;">Jembatan Timbang</div><div class="t" style="left:483.10px;top:257.00px;font-size:9.4px;line-height:9.4px;font-weight:normal;color:#353545;">Baureno Bojonegoro</div><div class="t" style="left:631.60px;top:232.80px;font-size:9px;line-height:9px;color:#0c2414;-webkit-text-stroke:0.22px currentColor;">Staging Area 2</div><div class="t" style="left:631.60px;top:243.10px;font-size:9.4px;line-height:9.4px;font-weight:normal;color:#0c2414;">PKU Muhamadiyah</div><div class="t" style="left:631.60px;top:254.80px;font-size:9.4px;line-height:9.4px;font-weight:normal;color:#0c2414;">Babat</div><div class="t" style="left:800.60px;top:234.90px;font-size:9px;line-height:9px;color:#303040;-webkit-text-stroke:0.22px currentColor;">Staging Area 1</div><div class="t" style="left:800.60px;top:245.10px;font-size:9.4px;line-height:9.4px;font-weight:normal;color:#353545;">SPBU Tebaloan</div><div class="t" style="left:800.60px;top:256.10px;font-size:9.4px;line-height:9.4px;font-weight:normal;color:#353545;">Duduk Sampean</div><div class="t" style="left:904.40px;top:235.90px;font-size:9px;line-height:9px;color:#2a1a0a;-webkit-text-stroke:0.22px currentColor;">Maspion</div><div class="t" style="left:904.40px;top:247.50px;font-size:9px;line-height:9px;color:#2a1a0a;-webkit-text-stroke:0.22px currentColor;">Jetty Gresik</div><div class="t" style="left:246.00px;top:288.40px;font-size:9.6px;line-height:9.6px;-webkit-text-stroke:0.22px currentColor;">04.00</div><div class="t" style="left:263.30px;top:301.00px;font-size:9.6px;line-height:9.6px;-webkit-text-stroke:0.22px currentColor;">22.00</div><div class="t" style="left:449.50px;top:292.10px;font-size:9.6px;line-height:9.6px;-webkit-text-stroke:0.22px currentColor;">04.00</div><div class="t" style="left:466.30px;top:304.40px;font-size:9.6px;line-height:9.6px;-webkit-text-stroke:0.22px currentColor;">22.00</div><div class="t" style="left:656.20px;top:292.10px;font-size:9.6px;line-height:9.6px;-webkit-text-stroke:0.22px currentColor;">04.00</div><div class="t" style="left:673.00px;top:304.40px;font-size:9.6px;line-height:9.6px;-webkit-text-stroke:0.22px currentColor;">22.00</div><div class="t" style="left:790.50px;top:292.10px;font-size:9.6px;line-height:9.6px;-webkit-text-stroke:0.22px currentColor;">04.00</div><div class="t" style="left:807.00px;top:304.40px;font-size:9.6px;line-height:9.6px;-webkit-text-stroke:0.22px currentColor;">22.00</div><div class="t" style="left:930.50px;top:298.00px;font-size:9.6px;line-height:9.6px;-webkit-text-stroke:0.22px currentColor;">22.00</div><div class="t" style="left:62.50px;top:352.50px;font-size:9px;line-height:9px;color:#222;-webkit-text-stroke:0.22px currentColor;">:</div><div class="t" style="left:81.80px;top:352.10px;font-size:9px;line-height:9px;color:#222;transform:scaleX(0.985);transform-origin:0 0;-webkit-text-stroke:0.22px currentColor;">MULTI AXLE 1</div><div class="t" style="left:49.50px;top:365.10px;font-size:9px;line-height:9px;color:#222;transform:scaleX(0.995);transform-origin:0 0;-webkit-text-stroke:0.22px currentColor;">Absorber Section 2</div><div class="t" style="left:96.00px;top:401.25px;font-size:9.5px;line-height:9.5px;color:#0b1a3a;transform:translateX(-50%);transform-origin:50% 0;-webkit-text-stroke:0.22px currentColor;">Site</div><div class="t" style="left:173.80px;top:380.30px;font-size:9px;line-height:9px;color:#222;transform:scaleX(1.0);transform-origin:0 0;-webkit-text-stroke:0.22px currentColor;">M1 (MULTI AXLE 1)</div><div class="t" style="left:317.50px;top:380.30px;font-size:9px;line-height:9px;color:#222;transform:scaleX(1.0);transform-origin:0 0;-webkit-text-stroke:0.22px currentColor;">M1 (MULTI AXLE 1)</div><div class="t" style="left:510.00px;top:380.30px;font-size:9px;line-height:9px;color:#222;transform:scaleX(1.0);transform-origin:0 0;-webkit-text-stroke:0.22px currentColor;">M1 (MULTI AXLE 1)</div><div class="t" style="left:701.00px;top:380.30px;font-size:9px;line-height:9px;color:#222;transform:scaleX(1.0);transform-origin:0 0;-webkit-text-stroke:0.22px currentColor;">M1 (MULTI AXLE 1)</div><div class="t" style="left:830.50px;top:380.30px;font-size:9px;line-height:9px;color:#222;transform:scaleX(1.0);transform-origin:0 0;-webkit-text-stroke:0.22px currentColor;">M1 (MULTI AXLE 1)</div><div class="t" style="left:203.90px;top:404.75px;font-size:9.3px;line-height:9.3px;transform:translateX(-50%);transform-origin:50% 0;-webkit-text-stroke:0.22px currentColor;">Tgl. 02-12-2019</div><div class="t" style="left:203.90px;top:415.90px;font-size:9px;line-height:9px;transform:translateX(-50%) scaleX(0.98);transform-origin:50% 0;-webkit-text-stroke:0.22px currentColor;">Jam 24.00 AREA</div><div class="t" style="left:203.90px;top:427.70px;font-size:9px;line-height:9px;transform:translateX(-50%) scaleX(0.94);transform-origin:50% 0;-webkit-text-stroke:0.22px currentColor;">METERING JTB</div><div class="t" style="left:320.10px;top:405.65px;font-size:9.3px;line-height:9.3px;transform:translateX(-50%);transform-origin:50% 0;-webkit-text-stroke:0.22px currentColor;">Tgl. 02-12-2019</div><div class="t" style="left:281.20px;top:416.60px;font-size:9.6px;line-height:9.6px;-webkit-text-stroke:0.22px currentColor;">04.00</div><div class="t" style="left:326.00px;top:428.50px;font-size:9.6px;line-height:9.6px;-webkit-text-stroke:0.22px currentColor;">22.00</div><div class="t" style="left:464.60px;top:405.65px;font-size:9.3px;line-height:9.3px;transform:translateX(-50%);transform-origin:50% 0;-webkit-text-stroke:0.22px currentColor;">Tgl. 01-12-2019</div><div class="t" style="left:426.20px;top:416.60px;font-size:9.6px;line-height:9.6px;-webkit-text-stroke:0.22px currentColor;">04.00</div><div class="t" style="left:470.50px;top:428.50px;font-size:9.6px;line-height:9.6px;-webkit-text-stroke:0.22px currentColor;">22.00</div><div class="t" style="left:602.70px;top:405.65px;font-size:9.3px;line-height:9.3px;transform:translateX(-50%);transform-origin:50% 0;-webkit-text-stroke:0.22px currentColor;">Tgl. 30-11-2019</div><div class="t" style="left:564.50px;top:416.60px;font-size:9.6px;line-height:9.6px;-webkit-text-stroke:0.22px currentColor;">04.00</div><div class="t" style="left:609.00px;top:428.50px;font-size:9.6px;line-height:9.6px;-webkit-text-stroke:0.22px currentColor;">22.00</div><div class="t" style="left:759.20px;top:405.65px;font-size:9.3px;line-height:9.3px;transform:translateX(-50%);transform-origin:50% 0;-webkit-text-stroke:0.22px currentColor;">Tgl. 29-11-2019</div><div class="t" style="left:722.50px;top:416.60px;font-size:9.6px;line-height:9.6px;-webkit-text-stroke:0.22px currentColor;">04.00</div><div class="t" style="left:764.50px;top:428.50px;font-size:9.6px;line-height:9.6px;-webkit-text-stroke:0.22px currentColor;">22.00</div><div class="t" style="left:891.25px;top:406.35px;font-size:9.3px;line-height:9.3px;transform:translateX(-50%);transform-origin:50% 0;-webkit-text-stroke:0.22px currentColor;">Tgl. 28-11-2019</div><div class="t" style="left:891.25px;top:418.80px;font-size:9px;line-height:9px;transform:translateX(-50%) scaleX(0.95);transform-origin:50% 0;-webkit-text-stroke:0.22px currentColor;">Jetty Gresik</div><div class="t" style="left:896.50px;top:428.50px;font-size:9.6px;line-height:9.6px;-webkit-text-stroke:0.22px currentColor;">22.00</div><div class="t" style="left:62.50px;top:458.00px;font-size:9px;line-height:9px;color:#222;-webkit-text-stroke:0.22px currentColor;">:</div><div class="t" style="left:81.80px;top:457.60px;font-size:9px;line-height:9px;color:#222;transform:scaleX(0.985);transform-origin:0 0;-webkit-text-stroke:0.22px currentColor;">MULTI AXLE 2</div><div class="t" style="left:49.50px;top:470.60px;font-size:9px;line-height:9px;color:#222;transform:scaleX(0.995);transform-origin:0 0;-webkit-text-stroke:0.22px currentColor;">Absorber Section 3</div><div class="t" style="left:96.00px;top:506.75px;font-size:9.5px;line-height:9.5px;color:#0b1a3a;transform:translateX(-50%);transform-origin:50% 0;-webkit-text-stroke:0.22px currentColor;">Site</div><div class="t" style="left:173.80px;top:485.80px;font-size:9px;line-height:9px;color:#222;transform:scaleX(1.0);transform-origin:0 0;-webkit-text-stroke:0.22px currentColor;">M1 (MULTI AXLE 2)</div><div class="t" style="left:317.50px;top:485.80px;font-size:9px;line-height:9px;color:#222;transform:scaleX(1.0);transform-origin:0 0;-webkit-text-stroke:0.22px currentColor;">M1 (MULTI AXLE 2)</div><div class="t" style="left:510.00px;top:485.80px;font-size:9px;line-height:9px;color:#222;transform:scaleX(1.0);transform-origin:0 0;-webkit-text-stroke:0.22px currentColor;">M1 (MULTI AXLE 2)</div><div class="t" style="left:701.00px;top:485.80px;font-size:9px;line-height:9px;color:#222;transform:scaleX(1.0);transform-origin:0 0;-webkit-text-stroke:0.22px currentColor;">M1 (MULTI AXLE 2)</div><div class="t" style="left:830.50px;top:485.80px;font-size:9px;line-height:9px;color:#222;transform:scaleX(1.0);transform-origin:0 0;-webkit-text-stroke:0.22px currentColor;">M1 (MULTI AXLE 2)</div><div class="t" style="left:203.90px;top:510.25px;font-size:9.3px;line-height:9.3px;transform:translateX(-50%);transform-origin:50% 0;-webkit-text-stroke:0.22px currentColor;">Tgl. 03-12-2019</div><div class="t" style="left:203.90px;top:521.40px;font-size:9px;line-height:9px;transform:translateX(-50%) scaleX(0.98);transform-origin:50% 0;-webkit-text-stroke:0.22px currentColor;">Jam 24.00 AREA</div><div class="t" style="left:203.90px;top:533.20px;font-size:9px;line-height:9px;transform:translateX(-50%) scaleX(0.94);transform-origin:50% 0;-webkit-text-stroke:0.22px currentColor;">METERING JTB</div><div class="t" style="left:320.10px;top:511.15px;font-size:9.3px;line-height:9.3px;transform:translateX(-50%);transform-origin:50% 0;-webkit-text-stroke:0.22px currentColor;">Tgl. 03-12-2019</div><div class="t" style="left:281.20px;top:522.10px;font-size:9.6px;line-height:9.6px;-webkit-text-stroke:0.22px currentColor;">04.00</div><div class="t" style="left:326.00px;top:534.00px;font-size:9.6px;line-height:9.6px;-webkit-text-stroke:0.22px currentColor;">22.00</div><div class="t" style="left:464.60px;top:511.15px;font-size:9.3px;line-height:9.3px;transform:translateX(-50%);transform-origin:50% 0;-webkit-text-stroke:0.22px currentColor;">Tgl. 02-12-2019</div><div class="t" style="left:426.20px;top:522.10px;font-size:9.6px;line-height:9.6px;-webkit-text-stroke:0.22px currentColor;">04.00</div><div class="t" style="left:470.50px;top:534.00px;font-size:9.6px;line-height:9.6px;-webkit-text-stroke:0.22px currentColor;">22.00</div><div class="t" style="left:602.70px;top:511.15px;font-size:9.3px;line-height:9.3px;transform:translateX(-50%);transform-origin:50% 0;-webkit-text-stroke:0.22px currentColor;">Tgl. 01-12-2019</div><div class="t" style="left:564.50px;top:522.10px;font-size:9.6px;line-height:9.6px;-webkit-text-stroke:0.22px currentColor;">04.00</div><div class="t" style="left:609.00px;top:534.00px;font-size:9.6px;line-height:9.6px;-webkit-text-stroke:0.22px currentColor;">22.00</div><div class="t" style="left:759.20px;top:511.15px;font-size:9.3px;line-height:9.3px;transform:translateX(-50%);transform-origin:50% 0;-webkit-text-stroke:0.22px currentColor;">Tgl. 30-11-2019</div><div class="t" style="left:722.50px;top:522.10px;font-size:9.6px;line-height:9.6px;-webkit-text-stroke:0.22px currentColor;">04.00</div><div class="t" style="left:764.50px;top:534.00px;font-size:9.6px;line-height:9.6px;-webkit-text-stroke:0.22px currentColor;">22.00</div><div class="t" style="left:891.25px;top:511.85px;font-size:9.3px;line-height:9.3px;transform:translateX(-50%);transform-origin:50% 0;-webkit-text-stroke:0.22px currentColor;">Tgl. 29-11-2019</div><div class="t" style="left:891.25px;top:524.30px;font-size:9px;line-height:9px;transform:translateX(-50%) scaleX(0.95);transform-origin:50% 0;-webkit-text-stroke:0.22px currentColor;">Jetty Gresik</div><div class="t" style="left:896.50px;top:534.00px;font-size:9.6px;line-height:9.6px;-webkit-text-stroke:0.22px currentColor;">22.00</div>
</body></html>
